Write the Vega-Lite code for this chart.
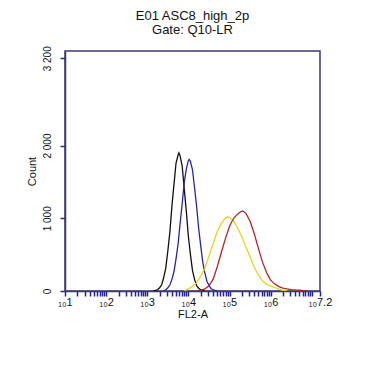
{
  "$schema": "https://vega.github.io/schema/vega-lite/v6.json",
  "autosize": {"type": "none"},
  "padding": {"left": 65, "top": 51, "right": 57, "bottom": 99},
  "width": 255,
  "height": 240,
  "background": "white",
  "title": {
    "text": ["E01 ASC8_high_2p", "Gate: Q10-LR"],
    "anchor": "middle",
    "font": "Liberation Sans",
    "fontSize": 13,
    "fontWeight": "normal",
    "color": "#111111",
    "lineHeight": 14,
    "offset": 9
  },
  "config": {
    "view": {"stroke": "#3a3a6e", "strokeWidth": 1.5},
    "axis": {
      "labelFont": "Liberation Sans",
      "titleFont": "Liberation Sans",
      "labelColor": "#111111",
      "titleColor": "#111111",
      "titleFontWeight": "normal",
      "grid": false
    }
  },
  "data": {
    "values": [
      {"sample": "S1", "fl2a_log": 3.15, "count": 0},
      {"sample": "S1", "fl2a_log": 3.20, "count": 8},
      {"sample": "S1", "fl2a_log": 3.25, "count": 17},
      {"sample": "S1", "fl2a_log": 3.30, "count": 45},
      {"sample": "S1", "fl2a_log": 3.35, "count": 86},
      {"sample": "S1", "fl2a_log": 3.40, "count": 185},
      {"sample": "S1", "fl2a_log": 3.45, "count": 315},
      {"sample": "S1", "fl2a_log": 3.50, "count": 550},
      {"sample": "S1", "fl2a_log": 3.55, "count": 810},
      {"sample": "S1", "fl2a_log": 3.60, "count": 1170},
      {"sample": "S1", "fl2a_log": 3.65, "count": 1470},
      {"sample": "S1", "fl2a_log": 3.70, "count": 1760},
      {"sample": "S1", "fl2a_log": 3.75, "count": 1870},
      {"sample": "S1", "fl2a_log": 3.77, "count": 1900},
      {"sample": "S1", "fl2a_log": 3.80, "count": 1855},
      {"sample": "S1", "fl2a_log": 3.85, "count": 1715},
      {"sample": "S1", "fl2a_log": 3.90, "count": 1400},
      {"sample": "S1", "fl2a_log": 3.95, "count": 1095},
      {"sample": "S1", "fl2a_log": 4.00, "count": 750},
      {"sample": "S1", "fl2a_log": 4.05, "count": 500},
      {"sample": "S1", "fl2a_log": 4.10, "count": 280},
      {"sample": "S1", "fl2a_log": 4.15, "count": 160},
      {"sample": "S1", "fl2a_log": 4.20, "count": 72},
      {"sample": "S1", "fl2a_log": 4.25, "count": 38},
      {"sample": "S1", "fl2a_log": 4.30, "count": 14},
      {"sample": "S1", "fl2a_log": 4.35, "count": 6},
      {"sample": "S1", "fl2a_log": 4.40, "count": 0},

      {"sample": "S2", "fl2a_log": 3.40, "count": 0},
      {"sample": "S2", "fl2a_log": 3.45, "count": 18},
      {"sample": "S2", "fl2a_log": 3.50, "count": 45},
      {"sample": "S2", "fl2a_log": 3.55, "count": 82},
      {"sample": "S2", "fl2a_log": 3.60, "count": 160},
      {"sample": "S2", "fl2a_log": 3.65, "count": 268},
      {"sample": "S2", "fl2a_log": 3.70, "count": 445},
      {"sample": "S2", "fl2a_log": 3.75, "count": 650},
      {"sample": "S2", "fl2a_log": 3.80, "count": 935},
      {"sample": "S2", "fl2a_log": 3.85, "count": 1205},
      {"sample": "S2", "fl2a_log": 3.90, "count": 1495},
      {"sample": "S2", "fl2a_log": 3.95, "count": 1680},
      {"sample": "S2", "fl2a_log": 4.00, "count": 1795},
      {"sample": "S2", "fl2a_log": 4.02, "count": 1810},
      {"sample": "S2", "fl2a_log": 4.05, "count": 1780},
      {"sample": "S2", "fl2a_log": 4.10, "count": 1665},
      {"sample": "S2", "fl2a_log": 4.15, "count": 1420},
      {"sample": "S2", "fl2a_log": 4.20, "count": 1165},
      {"sample": "S2", "fl2a_log": 4.25, "count": 860},
      {"sample": "S2", "fl2a_log": 4.30, "count": 620},
      {"sample": "S2", "fl2a_log": 4.35, "count": 395},
      {"sample": "S2", "fl2a_log": 4.40, "count": 250},
      {"sample": "S2", "fl2a_log": 4.45, "count": 135},
      {"sample": "S2", "fl2a_log": 4.50, "count": 78},
      {"sample": "S2", "fl2a_log": 4.55, "count": 35},
      {"sample": "S2", "fl2a_log": 4.60, "count": 18},
      {"sample": "S2", "fl2a_log": 4.65, "count": 7},
      {"sample": "S2", "fl2a_log": 4.70, "count": 0},

      {"sample": "S3", "fl2a_log": 3.90, "count": 0},
      {"sample": "S3", "fl2a_log": 4.00, "count": 30},
      {"sample": "S3", "fl2a_log": 4.10, "count": 65},
      {"sample": "S3", "fl2a_log": 4.20, "count": 115},
      {"sample": "S3", "fl2a_log": 4.30, "count": 205},
      {"sample": "S3", "fl2a_log": 4.40, "count": 310},
      {"sample": "S3", "fl2a_log": 4.50, "count": 480},
      {"sample": "S3", "fl2a_log": 4.60, "count": 650},
      {"sample": "S3", "fl2a_log": 4.70, "count": 810},
      {"sample": "S3", "fl2a_log": 4.80, "count": 930},
      {"sample": "S3", "fl2a_log": 4.90, "count": 1005},
      {"sample": "S3", "fl2a_log": 4.95, "count": 1020},
      {"sample": "S3", "fl2a_log": 5.00, "count": 1010},
      {"sample": "S3", "fl2a_log": 5.10, "count": 965},
      {"sample": "S3", "fl2a_log": 5.20, "count": 860},
      {"sample": "S3", "fl2a_log": 5.30, "count": 745},
      {"sample": "S3", "fl2a_log": 5.40, "count": 600},
      {"sample": "S3", "fl2a_log": 5.50, "count": 470},
      {"sample": "S3", "fl2a_log": 5.60, "count": 330},
      {"sample": "S3", "fl2a_log": 5.70, "count": 220},
      {"sample": "S3", "fl2a_log": 5.80, "count": 140},
      {"sample": "S3", "fl2a_log": 5.90, "count": 95},
      {"sample": "S3", "fl2a_log": 6.00, "count": 68},
      {"sample": "S3", "fl2a_log": 6.10, "count": 48},
      {"sample": "S3", "fl2a_log": 6.20, "count": 25},
      {"sample": "S3", "fl2a_log": 6.30, "count": 10},
      {"sample": "S3", "fl2a_log": 6.40, "count": 0},

      {"sample": "S4", "fl2a_log": 4.20, "count": 0},
      {"sample": "S4", "fl2a_log": 4.30, "count": 10},
      {"sample": "S4", "fl2a_log": 4.40, "count": 28},
      {"sample": "S4", "fl2a_log": 4.50, "count": 72},
      {"sample": "S4", "fl2a_log": 4.60, "count": 160},
      {"sample": "S4", "fl2a_log": 4.70, "count": 330},
      {"sample": "S4", "fl2a_log": 4.80, "count": 530},
      {"sample": "S4", "fl2a_log": 4.90, "count": 720},
      {"sample": "S4", "fl2a_log": 5.00, "count": 890},
      {"sample": "S4", "fl2a_log": 5.10, "count": 1000},
      {"sample": "S4", "fl2a_log": 5.20, "count": 1060},
      {"sample": "S4", "fl2a_log": 5.27, "count": 1090},
      {"sample": "S4", "fl2a_log": 5.32, "count": 1100},
      {"sample": "S4", "fl2a_log": 5.40, "count": 1068},
      {"sample": "S4", "fl2a_log": 5.50, "count": 960},
      {"sample": "S4", "fl2a_log": 5.60, "count": 790},
      {"sample": "S4", "fl2a_log": 5.70, "count": 590},
      {"sample": "S4", "fl2a_log": 5.80, "count": 400},
      {"sample": "S4", "fl2a_log": 5.90, "count": 255},
      {"sample": "S4", "fl2a_log": 6.00, "count": 150},
      {"sample": "S4", "fl2a_log": 6.10, "count": 95},
      {"sample": "S4", "fl2a_log": 6.20, "count": 60},
      {"sample": "S4", "fl2a_log": 6.30, "count": 40},
      {"sample": "S4", "fl2a_log": 6.40, "count": 28},
      {"sample": "S4", "fl2a_log": 6.50, "count": 20},
      {"sample": "S4", "fl2a_log": 6.60, "count": 14},
      {"sample": "S4", "fl2a_log": 6.70, "count": 10},
      {"sample": "S4", "fl2a_log": 6.80, "count": 5},
      {"sample": "S4", "fl2a_log": 6.90, "count": 0}
    ]
  },
  "mark": {"type": "line", "strokeWidth": 1.3, "clip": true},
  "encoding": {
    "x": {
      "field": "fl2a_log",
      "type": "quantitative",
      "scale": {"domain": [1, 7.2], "nice": false, "zero": false},
      "axis": {
        "title": "FL2-A",
        "titleFontSize": 11,
        "titlePadding": 1,
        "values": [1, 1.301, 1.477, 1.602, 1.699, 1.778, 1.845, 1.903, 1.954,
                   2, 2.301, 2.477, 2.602, 2.699, 2.778, 2.845, 2.903, 2.954,
                   3, 3.301, 3.477, 3.602, 3.699, 3.778, 3.845, 3.903, 3.954,
                   4, 4.301, 4.477, 4.602, 4.699, 4.778, 4.845, 4.903, 4.954,
                   5, 5.301, 5.477, 5.602, 5.699, 5.778, 5.845, 5.903, 5.954,
                   6, 6.301, 6.477, 6.602, 6.699, 6.778, 6.845, 6.903, 6.954,
                   7, 7.2],
        "labelExpr": "datum.value == 7.2 ? '₁₀7.2' : (datum.value == round(datum.value) && datum.value < 7 ? '₁₀' + datum.value : '')",
        "labelFontSize": 11,
        "labelFlush": false,
        "labelOverlap": false,
        "labelPadding": 0,
        "tickSize": 5,
        "tickWidth": 1.5,
        "tickColor": "#2020a8",
        "domainColor": "#3a3a6e",
        "domainWidth": 1.5
      }
    },
    "y": {
      "field": "count",
      "type": "quantitative",
      "scale": {"domain": [0, 3300], "nice": false},
      "axis": {
        "title": "Count",
        "titleFontSize": 11,
        "titlePadding": 5,
        "values": [0, 1000, 2000, 3200],
        "labelExpr": "replace(format(datum.value, ','), ',', ' ')",
        "labelAngle": -90,
        "labelAlign": "center",
        "labelBaseline": "bottom",
        "labelFontSize": 10,
        "labelPadding": 8,
        "tickSize": 5,
        "tickWidth": 1.5,
        "tickColor": "#2a2a80",
        "domainColor": "#3a3a6e",
        "domainWidth": 1.5
      }
    },
    "color": {
      "field": "sample",
      "type": "nominal",
      "scale": {"domain": ["S1", "S2", "S3", "S4"], "range": ["#111111", "#2626a6", "#e8d21c", "#b0262c"]},
      "legend": null
    }
  }
}
